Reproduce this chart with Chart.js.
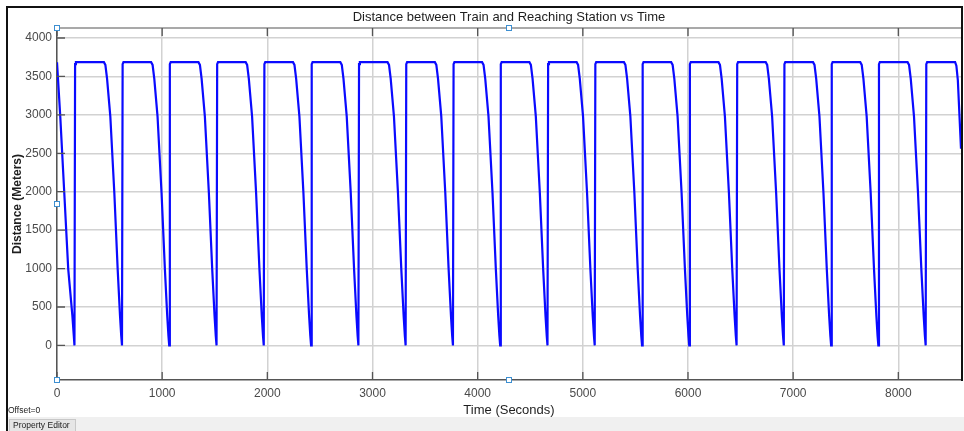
<!DOCTYPE html>
<html>
<head>
<meta charset="utf-8">
<script src="https://cdn.jsdelivr.net/npm/chart.js@4.4.1/dist/chart.umd.min.js"></script>
<style>
  html, body { margin: 0; padding: 0; background: #fff; }
  #wrap { width: 964px; height: 431px; }
</style>
</head>
<body>
<div id="wrap"><canvas id="distChart" width="964" height="431"></canvas></div>
<script>
// train distance to the next station, one row per stop cycle
const timeSec = [
  0, 31, 69, 107, 146, 160, 166, 172, 180,
  446, 460, 476, 507, 545, 577, 599, 611, 618, 624, 632,
  895, 909, 925, 956, 994, 1026, 1048, 1060, 1067, 1073, 1081,
  1345, 1359, 1375, 1406, 1444, 1476, 1498, 1510, 1517, 1523, 1531,
  1794, 1808, 1824, 1855, 1893, 1925, 1947, 1959, 1966, 1972, 1980,
  2244, 2258, 2274, 2305, 2343, 2375, 2397, 2409, 2416, 2422, 2430,
  2694, 2708, 2724, 2755, 2793, 2825, 2847, 2859, 2866, 2872, 2880,
  3143, 3157, 3173, 3204, 3242, 3274, 3296, 3308, 3315, 3321, 3329,
  3593, 3607, 3623, 3654, 3692, 3724, 3746, 3758, 3765, 3771, 3779,
  4042, 4056, 4072, 4103, 4141, 4173, 4195, 4207, 4214, 4220, 4228,
  4492, 4506, 4522, 4553, 4591, 4623, 4645, 4657, 4664, 4670, 4678,
  4941, 4955, 4971, 5002, 5040, 5072, 5094, 5106, 5113, 5119, 5127,
  5391, 5405, 5421, 5452, 5490, 5522, 5544, 5556, 5563, 5569, 5577,
  5840, 5854, 5870, 5901, 5939, 5971, 5993, 6005, 6012, 6018, 6026,
  6290, 6304, 6320, 6351, 6389, 6421, 6443, 6455, 6462, 6468, 6476,
  6739, 6753, 6769, 6800, 6838, 6870, 6892, 6904, 6911, 6917, 6925,
  7189, 7203, 7219, 7250, 7288, 7320, 7342, 7354, 7361, 7367, 7375,
  7638, 7652, 7668, 7699, 7737, 7769, 7791, 7803, 7810, 7816, 7824,
  8088, 8102, 8118, 8149, 8187, 8219, 8241, 8253, 8260, 8266, 8274,
  8540, 8552, 8566, 8596, 8640
];
const distanceM = [
  3685, 2980, 1990, 990, 390, 120, 0, 3660, 3685,
  3685, 3650, 3470, 2980, 1990, 990, 390, 120, 0, 3660, 3685,
  3685, 3650, 3470, 2980, 1990, 990, 390, 120, 0, 3660, 3685,
  3685, 3650, 3470, 2980, 1990, 990, 390, 120, 0, 3660, 3685,
  3685, 3650, 3470, 2980, 1990, 990, 390, 120, 0, 3660, 3685,
  3685, 3650, 3470, 2980, 1990, 990, 390, 120, 0, 3660, 3685,
  3685, 3650, 3470, 2980, 1990, 990, 390, 120, 0, 3660, 3685,
  3685, 3650, 3470, 2980, 1990, 990, 390, 120, 0, 3660, 3685,
  3685, 3650, 3470, 2980, 1990, 990, 390, 120, 0, 3660, 3685,
  3685, 3650, 3470, 2980, 1990, 990, 390, 120, 0, 3660, 3685,
  3685, 3650, 3470, 2980, 1990, 990, 390, 120, 0, 3660, 3685,
  3685, 3650, 3470, 2980, 1990, 990, 390, 120, 0, 3660, 3685,
  3685, 3650, 3470, 2980, 1990, 990, 390, 120, 0, 3660, 3685,
  3685, 3650, 3470, 2980, 1990, 990, 390, 120, 0, 3660, 3685,
  3685, 3650, 3470, 2980, 1990, 990, 390, 120, 0, 3660, 3685,
  3685, 3650, 3470, 2980, 1990, 990, 390, 120, 0, 3660, 3685,
  3685, 3650, 3470, 2980, 1990, 990, 390, 120, 0, 3660, 3685,
  3685, 3650, 3470, 2980, 1990, 990, 390, 120, 0, 3660, 3685,
  3685, 3650, 3470, 2980, 1990, 990, 390, 120, 0, 3660, 3685,
  3685, 3640, 3450, 2560, 1400
];
const xTicks = [0, 1000, 2000, 3000, 4000, 5000, 6000, 7000, 8000];
const yTicks = [0, 500, 1000, 1500, 2000, 2500, 3000, 3500, 4000];

const points = timeSec.map((t, i) => ({ x: t, y: distanceM[i] }));
const font = 'Arial, "Liberation Sans", sans-serif';

// figure window chrome: outer frame, axes box, inward ticks, edit handles
const figureChrome = {
  id: 'figureChrome',
  beforeDraw(chart) {
    const c = chart.ctx;
    c.save();
    c.fillStyle = '#fff';
    c.fillRect(0, 0, chart.width, chart.height);
    c.fillStyle = '#f0f0f0';
    c.fillRect(8, 417, chart.width - 8, chart.height - 417);
    c.fillStyle = '#e6e6e6';
    c.fillRect(9, 419, 67, 12);
    c.strokeStyle = '#c8c8c8';
    c.lineWidth = 1;
    c.strokeRect(9.5, 419.5, 66, 12);
    c.fillStyle = '#222';
    c.font = '8.5px ' + font;
    c.textBaseline = 'middle';
    c.fillText('Property Editor', 13, 426);
    c.fillText('Offset=0', 8, 411);
    c.restore();
  },
  afterDraw(chart) {
    const c = chart.ctx;
    const a = chart.chartArea;
    const xs = chart.scales.x, ys = chart.scales.y;
    c.save();
    // axes box top edge
    c.strokeStyle = '#8c8c8c';
    c.lineWidth = 1.5;
    c.beginPath();
    c.moveTo(a.left, a.top);
    c.lineTo(a.right, a.top);
    c.stroke();
    // inward tick marks
    c.strokeStyle = '#555';
    c.lineWidth = 1.3;
    c.beginPath();
    xTicks.forEach(v => {
      const px = xs.getPixelForValue(v);
      c.moveTo(px, a.bottom); c.lineTo(px, a.bottom - 8);
      c.moveTo(px, a.top); c.lineTo(px, a.top + 8);
    });
    yTicks.forEach(v => {
      const py = ys.getPixelForValue(v);
      c.moveTo(a.left, py); c.lineTo(a.left + 8, py);
    });
    c.stroke();
    // outer figure frame
    c.strokeStyle = '#111';
    c.lineWidth = 2;
    c.beginPath();
    c.moveTo(7, chart.height);
    c.lineTo(7, 7);
    c.lineTo(962, 7);
    c.lineTo(962, a.bottom + 1);
    c.stroke();
    // selection handles
    const cx = (a.left + a.right) / 2, cy = (a.top + a.bottom) / 2;
    [[a.left, a.top], [cx, a.top], [a.left, cy], [a.left, a.bottom], [cx, a.bottom]].forEach(([hx, hy]) => {
      c.fillStyle = '#fff';
      c.fillRect(hx - 2.5, hy - 2.5, 5, 5);
      c.strokeStyle = '#3d8fd1';
      c.lineWidth = 1;
      c.strokeRect(hx - 2.5, hy - 2.5, 5, 5);
    });
    c.restore();
  }
};

new Chart(document.getElementById('distChart'), {
  type: 'line',
  data: {
    datasets: [{
      data: points,
      borderColor: '#0a0aff',
      borderWidth: 2.2,
      pointRadius: 0,
      tension: 0,
      fill: false
    }]
  },
  options: {
    responsive: false,
    animation: false,
    devicePixelRatio: 1,
    layout: { padding: { left: 7, right: 3, top: 0, bottom: 0 } },
    plugins: {
      legend: { display: false },
      tooltip: { enabled: false },
      title: {
        display: true,
        text: 'Distance between Train and Reaching Station vs Time',
        fullSize: false,
        color: '#1e1e1e',
        font: { family: font, size: 13, weight: 'normal' },
        padding: { top: 10, bottom: 2.4 }
      }
    },
    scales: {
      x: {
        type: 'linear',
        min: 0,
        max: 8596,
        afterBuildTicks: s => { s.ticks = xTicks.map(v => ({ value: v })); },
        afterFit: s => { s.height = 51; },
        grid: { color: '#d2d2d2', lineWidth: 1.5, drawTicks: false },
        border: { display: true, color: '#555', width: 1.5 },
        ticks: { color: '#4a4a4a', padding: 6, font: { family: font, size: 12 }, callback: v => String(v) },
        title: {
          display: true,
          text: 'Time (Seconds)',
          color: '#1e1e1e',
          font: { family: font, size: 13 },
          padding: { top: 0, bottom: 12.5 }
        }
      },
      y: {
        type: 'linear',
        min: -450,
        max: 4130,
        afterBuildTicks: s => { s.ticks = yTicks.map(v => ({ value: v })); },
        afterFit: s => { s.width = 50; },
        grid: { color: '#d2d2d2', lineWidth: 1.5, drawTicks: false },
        border: { display: true, color: '#555', width: 1.5 },
        ticks: { color: '#4a4a4a', padding: 5, font: { family: font, size: 12 }, callback: v => String(v) },
        title: {
          display: true,
          text: 'Distance (Meters)',
          color: '#1e1e1e',
          font: { family: font, size: 12, weight: 'bold' },
          padding: { top: 3, bottom: 0 }
        }
      }
    }
  },
  plugins: [figureChrome]
});
</script>
</body>
</html>
